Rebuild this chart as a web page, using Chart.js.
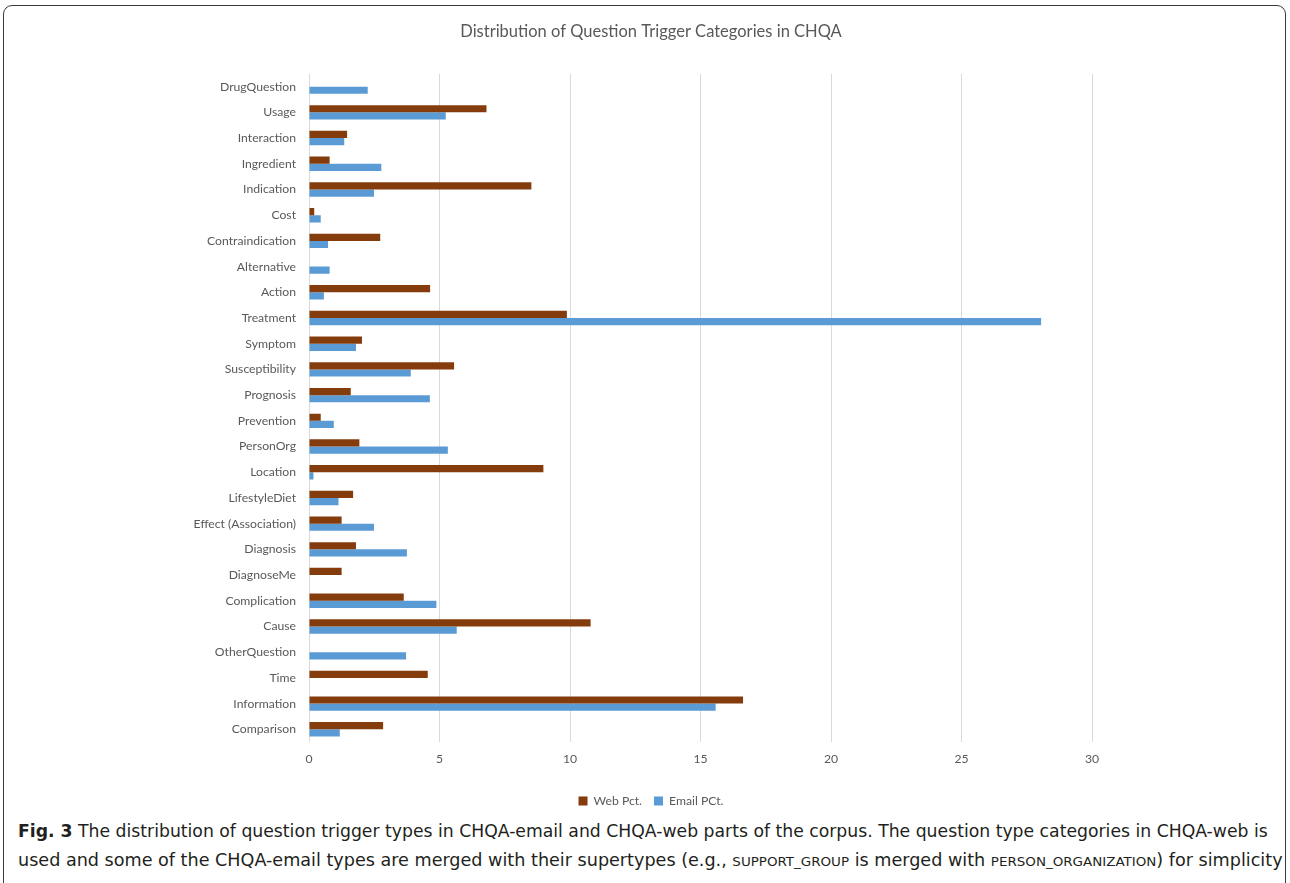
<!DOCTYPE html>
<html>
<head>
<meta charset="utf-8">
<script src="https://cdn.jsdelivr.net/npm/chart.js@4.4.1/dist/chart.umd.min.js"></script>
<style>
  body { margin: 0; background: #fff; width: 1290px; height: 883px; overflow: hidden; position: relative; }
  #frame { position: absolute; left: 3px; top: 5px; width: 1281px; height: 920px; border: 1.5px solid #3a3a3a; border-radius: 9px; }
  #wrap { position: absolute; left: 0; top: 0; width: 1290px; height: 817px; }
  .cap { position: absolute; left: 18px; white-space: nowrap; font-family: "DejaVu Sans Condensed", "DejaVu Sans", sans-serif; font-size: 17px; color: #231f20; transform-origin: 0 0; }
  .cap b { font-weight: bold; }
  .sc { font-size: 13px; }
</style>
</head>
<body>
<div id="frame"></div>
<div id="wrap"><canvas id="triggerChart"></canvas></div>
<div class="cap" id="cap1" data-w="1250" style="top:821px"><b>Fig. 3</b> The distribution of question trigger types in CHQA-email and CHQA-web parts of the corpus. The question type categories in CHQA-web is</div>
<div class="cap" id="cap2" data-w="1264" style="top:850px">used and some of the CHQA-email types are merged with their supertypes (e.g., <span class="sc">SUPPORT_GROUP</span> is merged with <span class="sc">PERSON_ORGANIZATION</span>) for simplicity</div>
<script>
// question trigger categories, top to bottom
const categories = ["DrugQuestion", "Usage", "Interaction", "Ingredient", "Indication", "Cost",
    "Contraindication", "Alternative", "Action", "Treatment", "Symptom", "Susceptibility",
    "Prognosis", "Prevention", "PersonOrg", "Location", "LifestyleDiet", "Effect (Association)",
    "Diagnosis", "DiagnoseMe", "Complication", "Cause", "OtherQuestion", "Time", "Information",
    "Comparison"];
const webPct = [0, 6.8, 1.46, 0.79, 8.52, 0.2, 2.73, 0, 4.64, 9.88, 2.03, 5.56, 1.6, 0.45,
    1.93, 8.98, 1.69, 1.25, 1.8, 1.25, 3.63, 10.79, 0, 4.55, 16.63, 2.84];
const emailPct = [2.25, 5.24, 1.35, 2.77, 2.49, 0.45, 0.73, 0.79, 0.57, 28.05, 1.8, 3.9, 4.63,
    0.95, 5.32, 0.17, 1.13, 2.49, 3.75, 0, 4.88, 5.66, 3.72, 0, 15.58, 1.18];
const xTicks = [0, 5, 10, 15, 20, 25, 30];

const textGray = '#595959';
const baseFont = { family: 'Lato, "Liberation Sans", sans-serif', size: 12.2 };

var ctx = document.getElementById("triggerChart").getContext('2d');
var triggerChart = new Chart(ctx, {
    type: 'bar',
    data: {
        labels: categories,
        datasets: [{
            label: "Web Pct.",
            data: webPct,
            backgroundColor: '#843c0c',
            categoryPercentage: 0.56,
            barPercentage: 1.0
        },
        {
            label: "Email PCt.",
            data: emailPct,
            backgroundColor: '#5b9bd5',
            categoryPercentage: 0.56,
            barPercentage: 1.0
        }]
    },
    options: {
        indexAxis: 'y',
        responsive: true,
        maintainAspectRatio: false,
        animation: false,
        layout: { padding: { left: 12, right: 0, top: 0, bottom: 0 } },
        plugins: {
            title: {
                display: true,
                text: 'Distribution of Question Trigger Categories in CHQA',
                color: textGray,
                font: { family: baseFont.family, size: 16.5, weight: 'normal' },
                padding: { top: 22, bottom: 32 }
            },
            legend: {
                position: 'bottom',
                labels: {
                    color: textGray,
                    font: baseFont,
                    boxWidth: 9,
                    boxHeight: 9,
                    padding: 12
                }
            },
            tooltip: { enabled: false }
        },
        scales: {
            x: {
                min: 0,
                max: 30,
                afterBuildTicks: (axis) => { axis.ticks = xTicks.map(v => ({ value: v })); },
                afterFit: (axis) => { axis.height += 6; },
                grid: { color: '#d9d9d9', drawTicks: false },
                border: { display: false },
                ticks: { color: textGray, font: baseFont, padding: 10 }
            },
            y: {
                afterFit: (axis) => { axis.width = 297; },
                grid: { display: false },
                border: { display: false },
                ticks: { color: textGray, font: baseFont, padding: 5, autoSkip: false }
            },
            // empty right-hand axis keeps the plot narrower than the canvas
            spacer: {
                type: 'linear',
                position: 'right',
                axis: 'y',
                afterFit: (axis) => { axis.width = 198; },
                grid: { display: false },
                border: { display: false },
                ticks: { display: false }
            }
        }
    }
});

// squeeze caption lines to their set widths
document.querySelectorAll('.cap').forEach(el => {
    const w = el.scrollWidth;
    el.style.transform = 'scaleX(' + (parseFloat(el.dataset.w) / w) + ')';
});
</script>
</body>
</html>
